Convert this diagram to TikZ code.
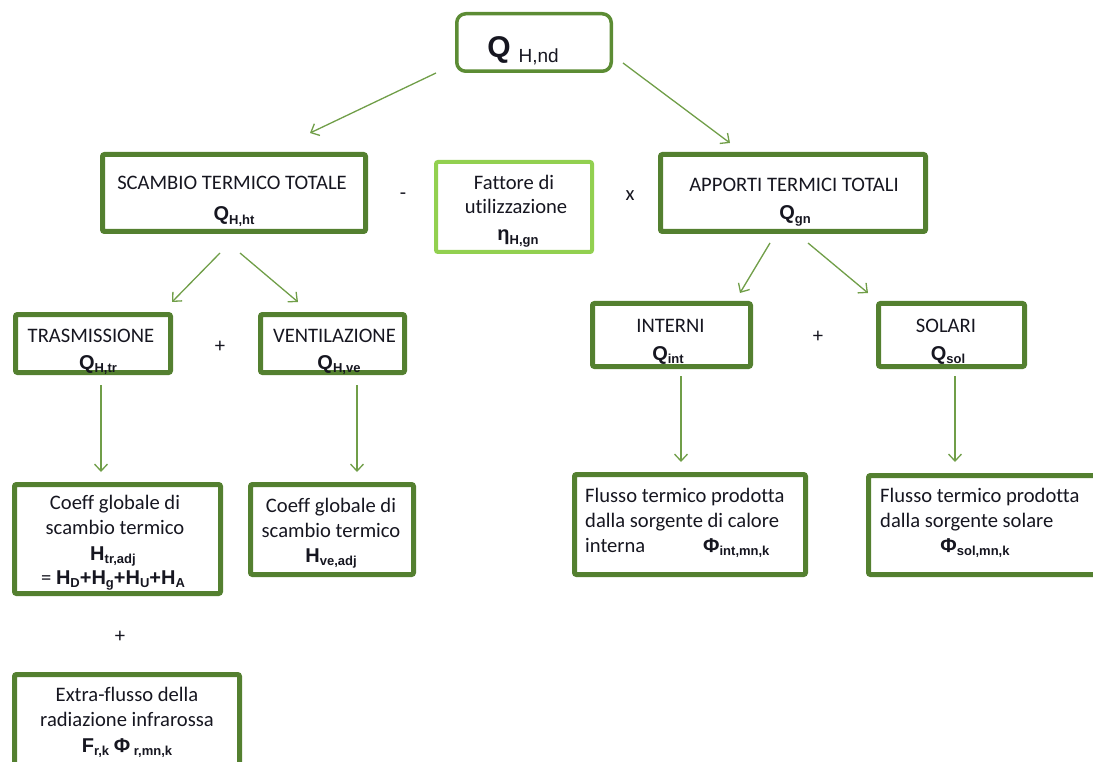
\documentclass[tikz,border=0pt]{standalone}
\usepackage{fontspec}
\setmainfont{Carlito}[Ligatures=NoCommon]
\newfontfamily\arialf{Liberation Sans}
\usetikzlibrary{arrows.meta}
\definecolor{boxgreen}{RGB}{84,128,48}
\definecolor{topgreen}{RGB}{92,140,52}
\definecolor{arrgreen}{RGB}{112,158,72}
\definecolor{lightgreen}{RGB}{146,208,80}
\definecolor{ink}{RGB}{22,22,32}

% bold symbol with a lowered bold subscript
\newcommand\qsym[2]{{\arialf\bfseries\fontsize{20}{20}\selectfont #1\raisebox{-0.35ex}{\fontsize{13}{13}\selectfont #2}}}
\newcommand\qplus{{\arialf\bfseries\fontsize{20}{20}\selectfont +}}

\begin{document}
\begin{tikzpicture}[x=1pt,y=-1pt,
  box/.style={draw=boxgreen,line width=5pt,rounded corners=2pt,inner sep=0pt,outer sep=0pt},
  topbox/.style={draw=topgreen,line width=3.5pt,rounded corners=9pt,inner sep=0pt,outer sep=0pt},
  utilbox/.style={draw=lightgreen,line width=4pt,rounded corners=2pt,inner sep=0pt,outer sep=0pt},
  lbl/.style={text=ink,inner sep=0pt,anchor=base,font=\fontsize{20.6}{24}\selectfont},
  lblw/.style={lbl,anchor=base west},
  arr/.style={draw=arrgreen,line width=1.3pt,-{Straight Barb[length=7pt,width=13pt]}},
  op/.style={text=ink,inner sep=0pt,font=\fontsize{20.6}{20}\selectfont}]
\useasboundingbox (0,0) rectangle (1093,762);
\clip (0,0) rectangle (1093,762);

% ---------- boxes ----------
\node[topbox,minimum width=154.5pt,minimum height=57.5pt] (top) at (534,42.5) {};
\node[box,minimum width=263pt,minimum height=77pt] (scambio) at (234,193) {};
\node[utilbox,minimum width=156pt,minimum height=90pt] (fattore) at (514,207) {};
\node[box,minimum width=265pt,minimum height=77pt] (apporti) at (793,193) {};
\node[box,minimum width=155pt,minimum height=58pt] (trasm) at (93,343.5) {};
\node[box,minimum width=144pt,minimum height=58pt] (vent) at (332.5,343.5) {};
\node[box,minimum width=158pt,minimum height=63pt] (interni) at (671.5,335) {};
\node[box,minimum width=146pt,minimum height=63pt] (solari) at (951.5,335) {};
\node[box,minimum width=206pt,minimum height=109pt] (coefftr) at (117.5,539) {};
\node[box,minimum width=163pt,minimum height=90pt] (coeffve) at (332,529.5) {};
\node[box,minimum width=231pt,minimum height=100pt] (flint) at (690,524.5) {};
\node[box,minimum width=239pt,minimum height=99pt] (flsol) at (988,525) {};
\node[box,minimum width=225pt,minimum height=113pt] (extra) at (127,731) {};

% ---------- texts ----------
\node[lbl] (topT) at (523,58) {{\arialf\bfseries\fontsize{30}{30}\selectfont Q}\hspace{8pt}\raisebox{-5pt}{\arialf\fontsize{19}{19}\selectfont H,nd}};

\node[lbl] (scambioT) at (232,190) {SCAMBIO TERMICO TOTALE};
\node[lbl] (scambioQ) at (234,221) {\qsym{Q}{H,ht}};

\node[lbl] (fattoreA) at (514,190) {Fattore di};
\node[lbl] (fattoreB) at (516,214) {utilizzazione};
\node[lbl] (fattoreQ) at (518,241) {\qsym{η}{H,gn}};

\node[lbl] (apportiT) at (794,192) {APPORTI TERMICI TOTALI};
\node[lbl] (apportiQ) at (795,220) {\qsym{Q}{gn}};

\node[lbl] (trasmT) at (91,342) {TRASMISSIONE};
\node[lbl] (trasmQ) at (98,369) {\qsym{Q}{H,tr}};
\node[lbl] (ventT) at (334.5,342) {VENTILAZIONE};
\node[lbl] (ventQ) at (339,369) {\qsym{Q}{H,ve}};

\node[lbl] (interniT) at (670.5,332) {INTERNI};
\node[lbl] (interniQ) at (668,360) {\qsym{Q}{int}};
\node[lbl] (solariT) at (946,332) {SOLARI};
\node[lbl] (solariQ) at (948,360) {\qsym{Q}{sol}};

\node[lbl] (coefftrA) at (115,509) {Coeff globale di};
\node[lbl] (coefftrB) at (115,534) {scambio termico};
\node[lbl] (coefftrH) at (113,560) {\qsym{H}{tr,adj}};
\node[lbl] (coefftrS) at (113,584) {= \qsym{H}{D}\qplus\qsym{H}{g}\qplus\qsym{H}{U}\qplus\qsym{H}{A}};

\node[lbl] (coeffveA) at (331,512) {Coeff globale di};
\node[lbl] (coeffveB) at (331,537) {scambio termico};
\node[lbl] (coeffveH) at (331,562) {\qsym{H}{ve,adj}};

\node[lblw] (flintA) at (585,502) {Flusso termico prodotta};
\node[lblw] (flintB) at (585,527) {dalla sorgente di calore};
\node[lblw] (flintC) at (585,552) {interna};
\node[lblw] (flintP) at (703,552) {\qsym{Φ}{int,mn,k}};

\node[lblw] (flsolA) at (880,502) {Flusso termico prodotta};
\node[lblw] (flsolB) at (880,527) {dalla sorgente solare};
\node[lbl] (flsolP) at (975,552) {\qsym{Φ}{sol,mn,k}};

\node[lbl] (extraA) at (127,701) {Extra-flusso della};
\node[lbl] (extraB) at (127,726) {radiazione infrarossa};
\node[lbl] (extraF) at (127,752) {\qsym{F}{r,k} \qsym{Φ}{\ r,mn,k}};

% ---------- operators ----------
\node[op] (minus) at (403,196) {-};
\node[op] (times) at (630,196) {x};
\node[op] (plusA) at (220,347) {+};
\node[op] (plusB) at (818,337) {+};
\node[op] (plusC) at (120,637) {+};

% ---------- arrows ----------
\coordinate (a1s) at (436,73);  \coordinate (a1e) at (310,133);
\coordinate (a2s) at (623,63);  \coordinate (a2e) at (730,143);
\coordinate (a3s) at (220,253); \coordinate (a3e) at (172,302);
\coordinate (a4s) at (240,253); \coordinate (a4e) at (298,302);
\coordinate (a5s) at (770,243); \coordinate (a5e) at (740,293);
\coordinate (a6s) at (808,243); \coordinate (a6e) at (868,293);
\coordinate (a7s) at (101,385); \coordinate (a7e) at (101,472);
\coordinate (a8s) at (357,385); \coordinate (a8e) at (357,472);
\coordinate (a9s) at (681,376); \coordinate (a9e) at (681,462);
\coordinate (a10s) at (955,376); \coordinate (a10e) at (955,462);
\foreach \i in {1,...,10} \draw[arr] (a\i s) -- (a\i e);
\end{tikzpicture}
\end{document}
